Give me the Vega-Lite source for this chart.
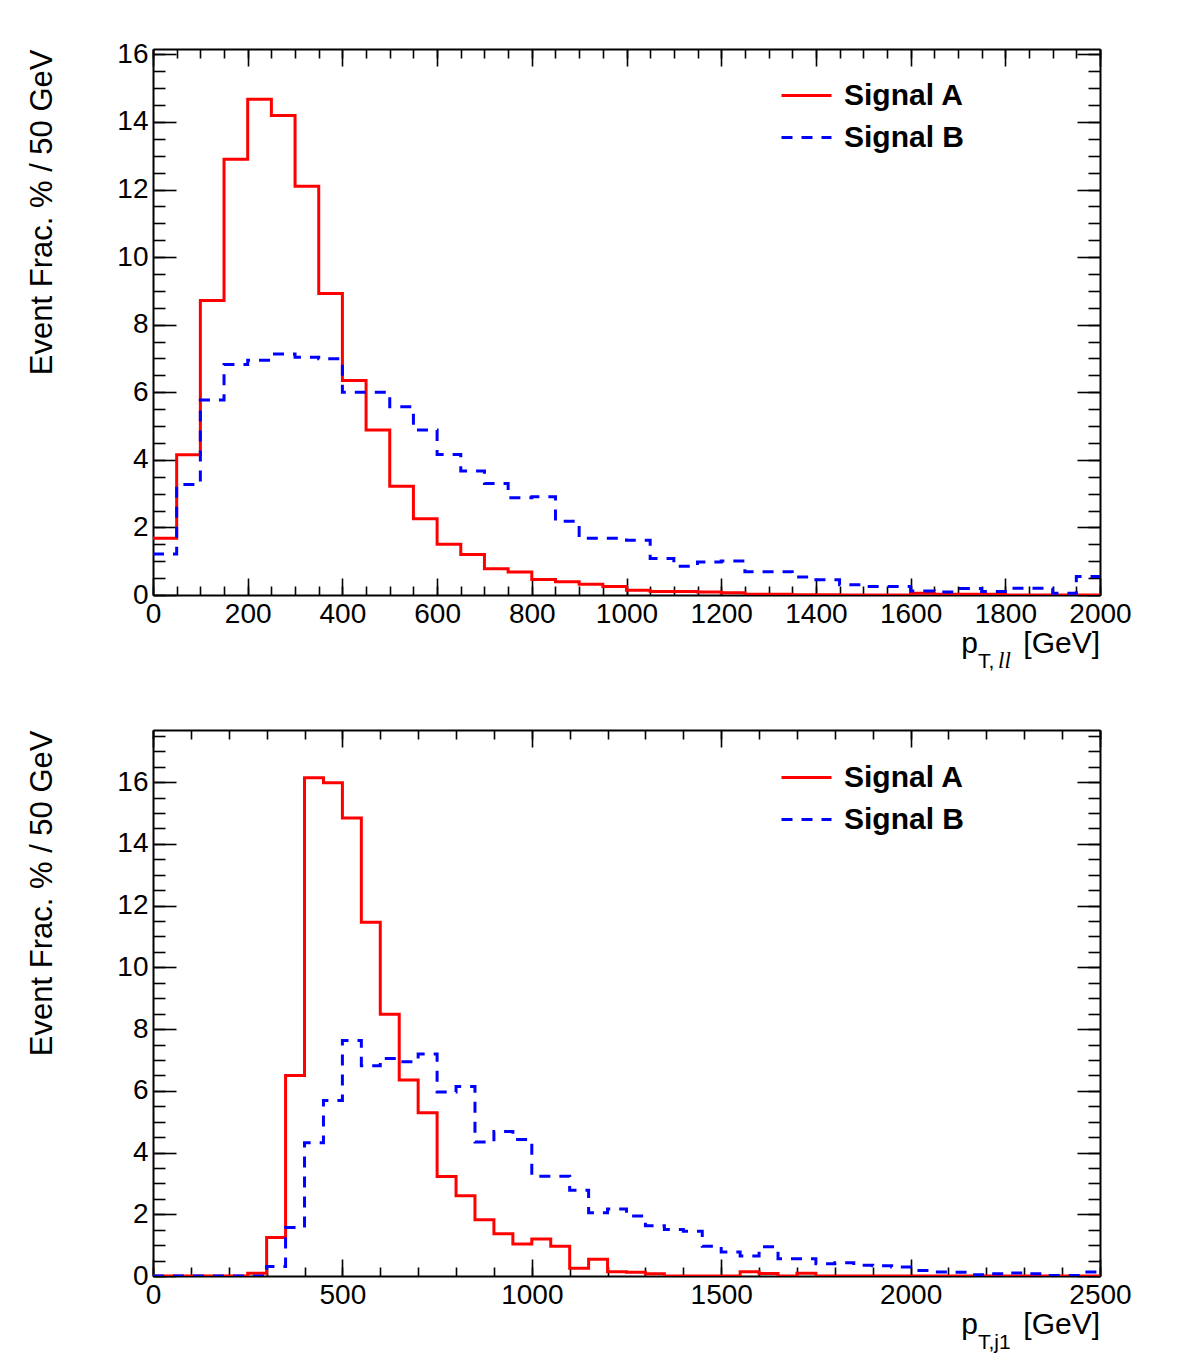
{
  "$schema": "https://vega.github.io/schema/vega-lite/v6.json",
  "padding": {"left": 26, "top": 40, "right": 10, "bottom": 5},
  "spacing": 56,
  "config": {
    "view": {"stroke": null},
    "font": "Liberation Sans",
    "axis": {
      "grid": false,
      "domainColor": "black",
      "domainWidth": 2,
      "tickColor": "black",
      "tickWidth": 1.6,
      "labelColor": "black",
      "labelFont": "Liberation Sans",
      "labelFontSize": 28,
      "labelFlush": false,
      "labelOverlap": false,
      "labelBound": false,
      "format": "d",
      "titleFont": "Liberation Sans",
      "titleFontSize": 31,
      "titleFontWeight": "normal",
      "titleColor": "black"
    }
  },
  "datasets": {
    "ptll": [
      {"pt": 0, "Signal A": 1.68, "Signal B": 1.21},
      {"pt": 50, "Signal A": 4.15, "Signal B": 3.27},
      {"pt": 100, "Signal A": 8.72, "Signal B": 5.77},
      {"pt": 150, "Signal A": 12.9, "Signal B": 6.82},
      {"pt": 200, "Signal A": 14.67, "Signal B": 6.95},
      {"pt": 250, "Signal A": 14.19, "Signal B": 7.13},
      {"pt": 300, "Signal A": 12.1, "Signal B": 7.04},
      {"pt": 350, "Signal A": 8.92, "Signal B": 6.99},
      {"pt": 400, "Signal A": 6.35, "Signal B": 6.0},
      {"pt": 450, "Signal A": 4.88, "Signal B": 6.0},
      {"pt": 500, "Signal A": 3.22, "Signal B": 5.57},
      {"pt": 550, "Signal A": 2.26, "Signal B": 4.88},
      {"pt": 600, "Signal A": 1.5, "Signal B": 4.16},
      {"pt": 650, "Signal A": 1.2, "Signal B": 3.67},
      {"pt": 700, "Signal A": 0.78, "Signal B": 3.3},
      {"pt": 750, "Signal A": 0.68, "Signal B": 2.88},
      {"pt": 800, "Signal A": 0.46, "Signal B": 2.91},
      {"pt": 850, "Signal A": 0.39, "Signal B": 2.18},
      {"pt": 900, "Signal A": 0.32, "Signal B": 1.68},
      {"pt": 950, "Signal A": 0.25, "Signal B": 1.68},
      {"pt": 1000, "Signal A": 0.14, "Signal B": 1.62},
      {"pt": 1050, "Signal A": 0.1, "Signal B": 1.08},
      {"pt": 1100, "Signal A": 0.1, "Signal B": 0.85},
      {"pt": 1150, "Signal A": 0.09, "Signal B": 0.98},
      {"pt": 1200, "Signal A": 0.07, "Signal B": 1.01},
      {"pt": 1250, "Signal A": 0.02, "Signal B": 0.69},
      {"pt": 1300, "Signal A": 0.02, "Signal B": 0.69},
      {"pt": 1350, "Signal A": 0.01, "Signal B": 0.53},
      {"pt": 1400, "Signal A": 0.01, "Signal B": 0.45},
      {"pt": 1450, "Signal A": 0.0, "Signal B": 0.3},
      {"pt": 1500, "Signal A": 0.0, "Signal B": 0.25},
      {"pt": 1550, "Signal A": 0.0, "Signal B": 0.25},
      {"pt": 1600, "Signal A": 0.05, "Signal B": 0.12},
      {"pt": 1650, "Signal A": 0.02, "Signal B": 0.09},
      {"pt": 1700, "Signal A": 0.02, "Signal B": 0.19},
      {"pt": 1750, "Signal A": 0.02, "Signal B": 0.1},
      {"pt": 1800, "Signal A": 0.0, "Signal B": 0.2},
      {"pt": 1850, "Signal A": 0.0, "Signal B": 0.2},
      {"pt": 1900, "Signal A": 0.0, "Signal B": 0.05},
      {"pt": 1950, "Signal A": 0.0, "Signal B": 0.55},
      {"pt": 2000, "Signal A": 0.0, "Signal B": 0.55}
    ],
    "ptj1": [
      {"pt": 0, "Signal A": 0.0, "Signal B": 0.0},
      {"pt": 50, "Signal A": 0.0, "Signal B": 0.0},
      {"pt": 100, "Signal A": 0.0, "Signal B": 0.0},
      {"pt": 150, "Signal A": 0.0, "Signal B": 0.0},
      {"pt": 200, "Signal A": 0.0, "Signal B": 0.0},
      {"pt": 250, "Signal A": 0.09, "Signal B": 0.0},
      {"pt": 300, "Signal A": 1.25, "Signal B": 0.31},
      {"pt": 350, "Signal A": 6.5, "Signal B": 1.57},
      {"pt": 400, "Signal A": 16.14, "Signal B": 4.32},
      {"pt": 450, "Signal A": 15.98, "Signal B": 5.69},
      {"pt": 500, "Signal A": 14.84, "Signal B": 7.63},
      {"pt": 550, "Signal A": 11.46, "Signal B": 6.81},
      {"pt": 600, "Signal A": 8.48, "Signal B": 7.05},
      {"pt": 650, "Signal A": 6.35, "Signal B": 6.94},
      {"pt": 700, "Signal A": 5.29, "Signal B": 7.19},
      {"pt": 750, "Signal A": 3.22, "Signal B": 5.96},
      {"pt": 800, "Signal A": 2.6, "Signal B": 6.14},
      {"pt": 850, "Signal A": 1.82, "Signal B": 4.34},
      {"pt": 900, "Signal A": 1.37, "Signal B": 4.68},
      {"pt": 950, "Signal A": 1.04, "Signal B": 4.42},
      {"pt": 1000, "Signal A": 1.2, "Signal B": 3.23},
      {"pt": 1050, "Signal A": 0.96, "Signal B": 3.23},
      {"pt": 1100, "Signal A": 0.25, "Signal B": 2.78},
      {"pt": 1150, "Signal A": 0.54, "Signal B": 2.05},
      {"pt": 1200, "Signal A": 0.14, "Signal B": 2.17},
      {"pt": 1250, "Signal A": 0.12, "Signal B": 1.94},
      {"pt": 1300, "Signal A": 0.07, "Signal B": 1.63},
      {"pt": 1350, "Signal A": 0.0, "Signal B": 1.51},
      {"pt": 1400, "Signal A": 0.0, "Signal B": 1.45},
      {"pt": 1450, "Signal A": 0.0, "Signal B": 0.96},
      {"pt": 1500, "Signal A": 0.0, "Signal B": 0.78},
      {"pt": 1550, "Signal A": 0.14, "Signal B": 0.65},
      {"pt": 1600, "Signal A": 0.08, "Signal B": 0.95},
      {"pt": 1650, "Signal A": 0.0, "Signal B": 0.56},
      {"pt": 1700, "Signal A": 0.09, "Signal B": 0.56},
      {"pt": 1750, "Signal A": 0.0, "Signal B": 0.4},
      {"pt": 1800, "Signal A": 0.0, "Signal B": 0.43},
      {"pt": 1850, "Signal A": 0.0, "Signal B": 0.35},
      {"pt": 1900, "Signal A": 0.0, "Signal B": 0.33},
      {"pt": 1950, "Signal A": 0.0, "Signal B": 0.29},
      {"pt": 2000, "Signal A": 0.0, "Signal B": 0.18},
      {"pt": 2050, "Signal A": 0.0, "Signal B": 0.13},
      {"pt": 2100, "Signal A": 0.0, "Signal B": 0.12},
      {"pt": 2150, "Signal A": 0.0, "Signal B": 0.04},
      {"pt": 2200, "Signal A": 0.0, "Signal B": 0.07},
      {"pt": 2250, "Signal A": 0.0, "Signal B": 0.1},
      {"pt": 2300, "Signal A": 0.0, "Signal B": 0.07},
      {"pt": 2350, "Signal A": 0.0, "Signal B": 0.02},
      {"pt": 2400, "Signal A": 0.0, "Signal B": 0.02},
      {"pt": 2450, "Signal A": 0.0, "Signal B": 0.13},
      {"pt": 2500, "Signal A": 0.0, "Signal B": 0.13}
    ]
  },
  "resolve": {"scale": {"color": "independent", "strokeDash": "independent"}},
  "vconcat": [
    {
      "width": 947,
      "height": 546,
      "resolve": {"axis": {"x": "independent", "y": "independent"}},
      "layer": [
        {
          "data": {"name": "ptll"},
          "transform": [{"fold": ["Signal A", "Signal B"], "as": ["sample", "frac"]}],
          "mark": {"type": "line", "interpolate": "step-after", "strokeWidth": 3, "clip": true},
          "encoding": {
            "x": {"field": "pt", "type": "quantitative",
                  "scale": {"domain": [0, 2000], "nice": false, "zero": false},
                  "axis": {"orient": "bottom", "values": [0, 200, 400, 600, 800, 1000, 1200, 1400, 1600, 1800, 2000], "tickSize": -17, "labelPadding": 22, "title": null, "domain": true}},
            "y": {"field": "frac", "type": "quantitative",
                  "scale": {"domain": [0, 16.16], "nice": false},
                  "axis": {"orient": "left", "values": [0, 2, 4, 6, 8, 10, 12, 14, 16], "tickSize": -23, "labelPadding": 28, "title": "Event Frac. % / 50 GeV", "titleAnchor": "end", "titlePadding": 58, "domain": true}},
            "color": {"field": "sample", "type": "nominal",
                      "scale": {"domain": ["Signal A", "Signal B"], "range": ["#ff0000", "#0000ff"]},
                      "legend": {"title": null, "orient": "none", "legendX": 627, "legendY": 20, "padding": 0, "symbolType": "stroke", "symbolSize": 2500, "symbolStrokeWidth": 3, "labelFont": "Liberation Sans", "labelFontSize": 30, "labelFontWeight": "bold", "labelColor": "black", "labelOffset": 11, "rowPadding": 0}},
            "strokeDash": {"field": "sample", "type": "nominal",
                           "scale": {"domain": ["Signal A", "Signal B"], "range": [[1, 0], [11, 9]]},
                           "legend": {"title": null, "orient": "none", "legendX": 627, "legendY": 20, "padding": 0, "symbolType": "stroke", "symbolSize": 2500, "symbolStrokeWidth": 3, "labelFont": "Liberation Sans", "labelFontSize": 30, "labelFontWeight": "bold", "labelColor": "black", "labelOffset": 11, "rowPadding": 0}}
          }
        },
        {
          "data": {"values": [{}]},
          "mark": {"type": "text", "text": "[GeV]", "align": "right", "baseline": "alphabetic", "dy": 58, "fontSize": 30, "font": "Liberation Sans", "color": "black"},
          "encoding": {
            "x": {"datum": 2000, "type": "quantitative", "scale": {"domain": [0, 2000], "nice": false, "zero": false},
                  "axis": {"orient": "bottom", "values": [0, 50, 100, 150, 200, 250, 300, 350, 400, 450, 500, 550, 600, 650, 700, 750, 800, 850, 900, 950, 1000, 1050, 1100, 1150, 1200, 1250, 1300, 1350, 1400, 1450, 1500, 1550, 1600, 1650, 1700, 1750, 1800, 1850, 1900, 1950, 2000], "tickSize": -9, "labels": false, "domain": false, "title": null}},
            "y": {"datum": 0, "type": "quantitative", "scale": {"domain": [0, 16.16], "nice": false},
                  "axis": {"orient": "left", "values": [0, 0.5, 1, 1.5, 2, 2.5, 3, 3.5, 4, 4.5, 5, 5.5, 6, 6.5, 7, 7.5, 8, 8.5, 9, 9.5, 10, 10.5, 11, 11.5, 12, 12.5, 13, 13.5, 14, 14.5, 15, 15.5, 16], "tickSize": -12, "labels": false, "domain": false, "title": null}}
          }
        },
        {
          "data": {"values": [{}]},
          "mark": {"type": "text", "text": "p", "align": "right", "baseline": "alphabetic", "dx": -122, "dy": 58, "fontSize": 30, "font": "Liberation Sans", "color": "black"},
          "encoding": {
            "x": {"datum": 2000, "type": "quantitative", "scale": {"domain": [0, 2000], "nice": false, "zero": false},
                  "axis": {"orient": "top", "values": [0, 200, 400, 600, 800, 1000, 1200, 1400, 1600, 1800, 2000], "tickSize": -17, "labels": false, "domain": true, "title": null}},
            "y": {"datum": 0, "type": "quantitative", "scale": {"domain": [0, 16.16], "nice": false},
                  "axis": {"orient": "right", "values": [0, 2, 4, 6, 8, 10, 12, 14, 16], "tickSize": -23, "labels": false, "domain": true, "title": null}}
          }
        },
        {
          "data": {"values": [{}]},
          "mark": {"type": "text", "text": "T,", "align": "left", "baseline": "alphabetic", "dx": -122, "dy": 73, "fontSize": 21, "font": "Liberation Sans", "color": "black"},
          "encoding": {
            "x": {"datum": 2000, "type": "quantitative", "scale": {"domain": [0, 2000], "nice": false, "zero": false},
                  "axis": {"orient": "top", "values": [0, 50, 100, 150, 200, 250, 300, 350, 400, 450, 500, 550, 600, 650, 700, 750, 800, 850, 900, 950, 1000, 1050, 1100, 1150, 1200, 1250, 1300, 1350, 1400, 1450, 1500, 1550, 1600, 1650, 1700, 1750, 1800, 1850, 1900, 1950, 2000], "tickSize": -9, "labels": false, "domain": false, "title": null}},
            "y": {"datum": 0, "type": "quantitative", "scale": {"domain": [0, 16.16], "nice": false},
                  "axis": {"orient": "right", "values": [0, 0.5, 1, 1.5, 2, 2.5, 3, 3.5, 4, 4.5, 5, 5.5, 6, 6.5, 7, 7.5, 8, 8.5, 9, 9.5, 10, 10.5, 11, 11.5, 12, 12.5, 13, 13.5, 14, 14.5, 15, 15.5, 16], "tickSize": -12, "labels": false, "domain": false, "title": null}}
          }
        },
        {
          "data": {"values": [{}]},
          "mark": {"type": "text", "text": "ll", "align": "left", "baseline": "alphabetic", "dx": -102, "dy": 73, "fontSize": 23, "font": "Liberation Serif", "fontStyle": "italic", "color": "black"},
          "encoding": {
            "x": {"datum": 2000, "type": "quantitative", "scale": {"domain": [0, 2000], "nice": false, "zero": false}, "axis": null},
            "y": {"datum": 0, "type": "quantitative", "scale": {"domain": [0, 16.16], "nice": false}, "axis": null}
          }
        }
      ]
    },
    {
      "width": 947,
      "height": 546,
      "resolve": {"axis": {"x": "independent", "y": "independent"}},
      "layer": [
        {
          "data": {"name": "ptj1"},
          "transform": [{"fold": ["Signal A", "Signal B"], "as": ["sample", "frac"]}],
          "mark": {"type": "line", "interpolate": "step-after", "strokeWidth": 3, "clip": true},
          "encoding": {
            "x": {"field": "pt", "type": "quantitative",
                  "scale": {"domain": [0, 2500], "nice": false, "zero": false},
                  "axis": {"orient": "bottom", "values": [0, 500, 1000, 1500, 2000, 2500], "tickSize": -17, "labelPadding": 22, "title": null, "domain": true}},
            "y": {"field": "frac", "type": "quantitative",
                  "scale": {"domain": [0, 17.69], "nice": false},
                  "axis": {"orient": "left", "values": [0, 2, 4, 6, 8, 10, 12, 14, 16], "tickSize": -23, "labelPadding": 28, "title": "Event Frac. % / 50 GeV", "titleAnchor": "end", "titlePadding": 58, "domain": true}},
            "color": {"field": "sample", "type": "nominal",
                      "scale": {"domain": ["Signal A", "Signal B"], "range": ["#ff0000", "#0000ff"]},
                      "legend": {"title": null, "orient": "none", "legendX": 627, "legendY": 21, "padding": 0, "symbolType": "stroke", "symbolSize": 2500, "symbolStrokeWidth": 3, "labelFont": "Liberation Sans", "labelFontSize": 30, "labelFontWeight": "bold", "labelColor": "black", "labelOffset": 11, "rowPadding": 0}},
            "strokeDash": {"field": "sample", "type": "nominal",
                           "scale": {"domain": ["Signal A", "Signal B"], "range": [[1, 0], [11, 9]]},
                           "legend": {"title": null, "orient": "none", "legendX": 627, "legendY": 21, "padding": 0, "symbolType": "stroke", "symbolSize": 2500, "symbolStrokeWidth": 3, "labelFont": "Liberation Sans", "labelFontSize": 30, "labelFontWeight": "bold", "labelColor": "black", "labelOffset": 11, "rowPadding": 0}}
          }
        },
        {
          "data": {"values": [{}]},
          "mark": {"type": "text", "text": "[GeV]", "align": "right", "baseline": "alphabetic", "dy": 58, "fontSize": 30, "font": "Liberation Sans", "color": "black"},
          "encoding": {
            "x": {"datum": 2500, "type": "quantitative", "scale": {"domain": [0, 2500], "nice": false, "zero": false},
                  "axis": {"orient": "bottom", "values": [0, 100, 200, 300, 400, 500, 600, 700, 800, 900, 1000, 1100, 1200, 1300, 1400, 1500, 1600, 1700, 1800, 1900, 2000, 2100, 2200, 2300, 2400, 2500], "tickSize": -9, "labels": false, "domain": false, "title": null}},
            "y": {"datum": 0, "type": "quantitative", "scale": {"domain": [0, 17.69], "nice": false},
                  "axis": {"orient": "left", "values": [0, 0.5, 1, 1.5, 2, 2.5, 3, 3.5, 4, 4.5, 5, 5.5, 6, 6.5, 7, 7.5, 8, 8.5, 9, 9.5, 10, 10.5, 11, 11.5, 12, 12.5, 13, 13.5, 14, 14.5, 15, 15.5, 16, 16.5, 17, 17.5], "tickSize": -12, "labels": false, "domain": false, "title": null}}
          }
        },
        {
          "data": {"values": [{}]},
          "mark": {"type": "text", "text": "p", "align": "right", "baseline": "alphabetic", "dx": -122, "dy": 58, "fontSize": 30, "font": "Liberation Sans", "color": "black"},
          "encoding": {
            "x": {"datum": 2500, "type": "quantitative", "scale": {"domain": [0, 2500], "nice": false, "zero": false},
                  "axis": {"orient": "top", "values": [0, 500, 1000, 1500, 2000, 2500], "tickSize": -17, "labels": false, "domain": true, "title": null}},
            "y": {"datum": 0, "type": "quantitative", "scale": {"domain": [0, 17.69], "nice": false},
                  "axis": {"orient": "right", "values": [0, 2, 4, 6, 8, 10, 12, 14, 16], "tickSize": -23, "labels": false, "domain": true, "title": null}}
          }
        },
        {
          "data": {"values": [{}]},
          "mark": {"type": "text", "text": "T,j1", "align": "left", "baseline": "alphabetic", "dx": -122, "dy": 73, "fontSize": 21, "font": "Liberation Sans", "color": "black"},
          "encoding": {
            "x": {"datum": 2500, "type": "quantitative", "scale": {"domain": [0, 2500], "nice": false, "zero": false},
                  "axis": {"orient": "top", "values": [0, 100, 200, 300, 400, 500, 600, 700, 800, 900, 1000, 1100, 1200, 1300, 1400, 1500, 1600, 1700, 1800, 1900, 2000, 2100, 2200, 2300, 2400, 2500], "tickSize": -9, "labels": false, "domain": false, "title": null}},
            "y": {"datum": 0, "type": "quantitative", "scale": {"domain": [0, 17.69], "nice": false},
                  "axis": {"orient": "right", "values": [0, 0.5, 1, 1.5, 2, 2.5, 3, 3.5, 4, 4.5, 5, 5.5, 6, 6.5, 7, 7.5, 8, 8.5, 9, 9.5, 10, 10.5, 11, 11.5, 12, 12.5, 13, 13.5, 14, 14.5, 15, 15.5, 16, 16.5, 17, 17.5], "tickSize": -12, "labels": false, "domain": false, "title": null}}
          }
        }
      ]
    }
  ]
}
